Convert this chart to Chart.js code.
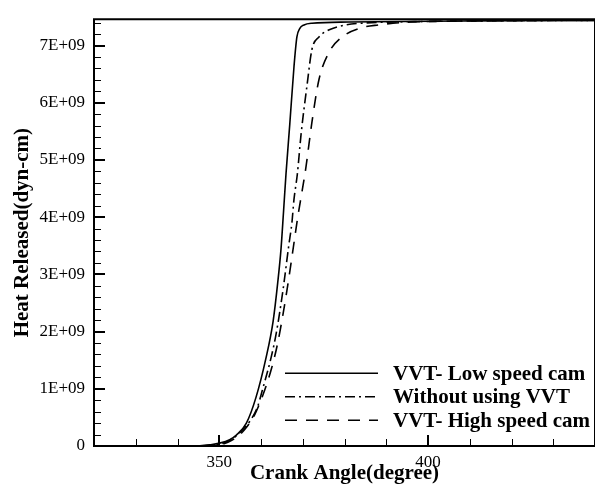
<!DOCTYPE html>
<html>
<head>
<meta charset="utf-8">
<script src="https://cdn.jsdelivr.net/npm/chart.js@4/dist/chart.umd.min.js"></script>
<style>
  html, body { margin: 0; padding: 0; background: #fff; }
  #wrap { width: 597px; height: 484px; }
</style>
</head>
<body>
<div id="wrap"><canvas id="heatChart"></canvas></div>
<script>
// Cumulative heat released vs crank angle, [deg, E+09 dyn-cm]
const lowSpeedCam = [
  [345, 0], [347.7, 0.02], [350.1, 0.05], [352.5, 0.11], [354.1, 0.19],
  [356.5, 0.40], [358.8, 0.85], [361.2, 1.54], [362.9, 2.18], [364.0, 2.85],
  [364.8, 3.45], [365.4, 4.10], [366.0, 4.77], [366.9, 5.63], [367.9, 6.63],
  [368.6, 7.15], [369.3, 7.30], [370.3, 7.36], [372.2, 7.39], [381, 7.41],
  [410, 7.43], [440, 7.44]
];
const withoutVVT = [
  [346, 0], [350, 0.03], [353, 0.12], [355.6, 0.28], [357.5, 0.45],
  [359.1, 0.67], [360.3, 0.97], [362.4, 1.54], [363.6, 1.95], [365.2, 2.69],
  [366.7, 3.53], [367.4, 3.90], [367.9, 4.31], [368.7, 4.75], [369.6, 5.45],
  [371.0, 6.29], [372.2, 6.93], [373.9, 7.15], [376.2, 7.27], [380.3, 7.36],
  [384.1, 7.39], [400, 7.42], [440, 7.44]
];
const highSpeedCam = [
  [346, 0], [350, 0.02], [353, 0.10], [356, 0.28], [358.5, 0.55],
  [360.5, 0.90], [362.5, 1.35], [364, 1.80], [365.5, 2.40], [366.7, 2.95],
  [367.8, 3.50], [368.8, 4.00], [369.9, 4.48], [370.8, 4.89], [371.5, 5.28],
  [372.2, 5.66], [373.9, 6.41], [376.2, 6.87], [379.1, 7.13], [384.1, 7.31],
  [388.1, 7.36], [395.9, 7.41], [410, 7.43], [440, 7.44]
];

const seriesLabels = ['VVT- Low speed cam', 'Without using VVT', 'VVT- High speed cam'];
const seriesDash = [[], [10, 4, 2, 4], [12, 9]];

const xTicks = [350, 400];
const xMinorTicks = [330, 340, 360, 370, 380, 390, 410, 420, 430];
const yTicks = [0, 1, 2, 3, 4, 5, 6, 7];          // E+09
const yMinorStep = 0.2;

const SERIF = '"Liberation Serif", "Times New Roman", serif';
const toPts = arr => arr.map(([x, y]) => ({ x: x, y: y * 1e9 }));

// inward tick marks, frame and in-plot legend
const framePlugin = {
  id: 'frame',
  afterDatasetsDraw(chart) {
    const { ctx, chartArea: a, scales: { x, y } } = chart;
    ctx.save();
    ctx.strokeStyle = '#000';
    ctx.setLineDash([]);

    // minor / major ticks on the left and bottom axes
    ctx.lineWidth = 1;
    ctx.beginPath();
    for (let v = 0; v <= 7.46 + 1e-9; v += yMinorStep) {
      const py = Math.round(y.getPixelForValue(v * 1e9)) + 0.5;
      if (py < a.top + 2) continue;
      const major = Math.abs(v - Math.round(v)) < 1e-6;
      ctx.moveTo(a.left, py);
      ctx.lineTo(a.left + (major ? 11 : 7), py);
    }
    xMinorTicks.forEach(v => {
      const px = Math.round(x.getPixelForValue(v)) + 0.5;
      ctx.moveTo(px, a.bottom);
      ctx.lineTo(px, a.bottom - 7);
    });
    ctx.stroke();
    ctx.lineWidth = 2;
    ctx.beginPath();
    yTicks.forEach(v => {
      const py = Math.round(y.getPixelForValue(v * 1e9));
      ctx.moveTo(a.left, py);
      ctx.lineTo(a.left + 11, py);
    });
    xTicks.forEach(v => {
      const px = Math.round(x.getPixelForValue(v));
      ctx.moveTo(px, a.bottom);
      ctx.lineTo(px, a.bottom - 11);
    });
    ctx.stroke();

    // frame
    ctx.lineWidth = 2;
    ctx.beginPath();
    ctx.moveTo(a.right, a.top);
    ctx.lineTo(a.left, a.top);
    ctx.lineTo(a.left, a.bottom);
    ctx.lineTo(a.right, a.bottom);
    ctx.stroke();
    ctx.lineWidth = 1;
    ctx.beginPath();
    ctx.moveTo(a.right - 0.5, a.top);
    ctx.lineTo(a.right - 0.5, a.bottom);
    ctx.stroke();

    // legend
    const lx0 = a.left + 191, lx1 = a.left + 284, tx = a.left + 299;
    ctx.font = 'bold 21px ' + SERIF;
    ctx.fillStyle = '#000';
    ctx.textBaseline = 'middle';
    chart.data.datasets.forEach((ds, i) => {
      const ly = a.top + 354 + i * 23.5;
      ctx.lineWidth = 1.6;
      ctx.setLineDash(ds.borderDash);
      ctx.beginPath();
      ctx.moveTo(lx0, ly);
      ctx.lineTo(lx1, ly);
      ctx.stroke();
      ctx.setLineDash([]);
      ctx.fillText(ds.label, tx, ly + 1);
    });
    ctx.restore();
  }
};

const makeSet = (data, i) => ({
  label: seriesLabels[i],
  data: toPts(data),
  borderColor: '#000',
  borderWidth: 1.6,
  borderDash: seriesDash[i],
  pointRadius: 0,
  showLine: true,
  fill: false,
  cubicInterpolationMode: 'monotone'
});

const ctx = document.getElementById('heatChart').getContext('2d');
new Chart(ctx, {
  type: 'scatter',
  data: {
    datasets: [makeSet(lowSpeedCam, 0), makeSet(withoutVVT, 1), makeSet(highSpeedCam, 2)]
  },
  options: {
    responsive: true,
    maintainAspectRatio: false,
    animation: false,
    layout: { padding: { top: 14, right: 2, left: 0, bottom: 0 } },
    plugins: {
      legend: { display: false },
      tooltip: { enabled: false }
    },
    scales: {
      x: {
        type: 'linear',
        min: 320,
        max: 440,
        grid: { display: false, drawTicks: false },
        border: { display: false },
        afterFit: s => { s.height = 38; },
        afterBuildTicks: s => { s.ticks = xTicks.map(v => ({ value: v })); },
        ticks: {
          color: '#000',
          padding: 6,
          maxRotation: 0,
          font: { family: SERIF, size: 17 }
        },
        title: {
          display: true,
          text: 'Crank Angle(degree)',
          color: '#000',
          padding: { top: 0, bottom: 0 },
          font: { family: SERIF, size: 21, weight: 'bold', lineHeight: 1 }
        }
      },
      y: {
        type: 'linear',
        min: 0,
        max: 7.46e9,
        grid: { display: false, drawTicks: false },
        border: { display: false },
        afterFit: s => { s.width = 94; },
        afterBuildTicks: s => { s.ticks = yTicks.map(v => ({ value: v * 1e9 })); },
        ticks: {
          color: '#000',
          padding: 9,
          font: { family: SERIF, size: 17 },
          callback: v => v === 0 ? '0' : Math.round(v / 1e9) + 'E+09'
        },
        title: {
          display: true,
          text: 'Heat Released(dyn-cm)',
          color: '#000',
          padding: { top: 12, bottom: 0 },
          font: { family: SERIF, size: 21, weight: 'bold', lineHeight: 1 }
        }
      }
    }
  },
  plugins: [framePlugin]
});
</script>
</body>
</html>
